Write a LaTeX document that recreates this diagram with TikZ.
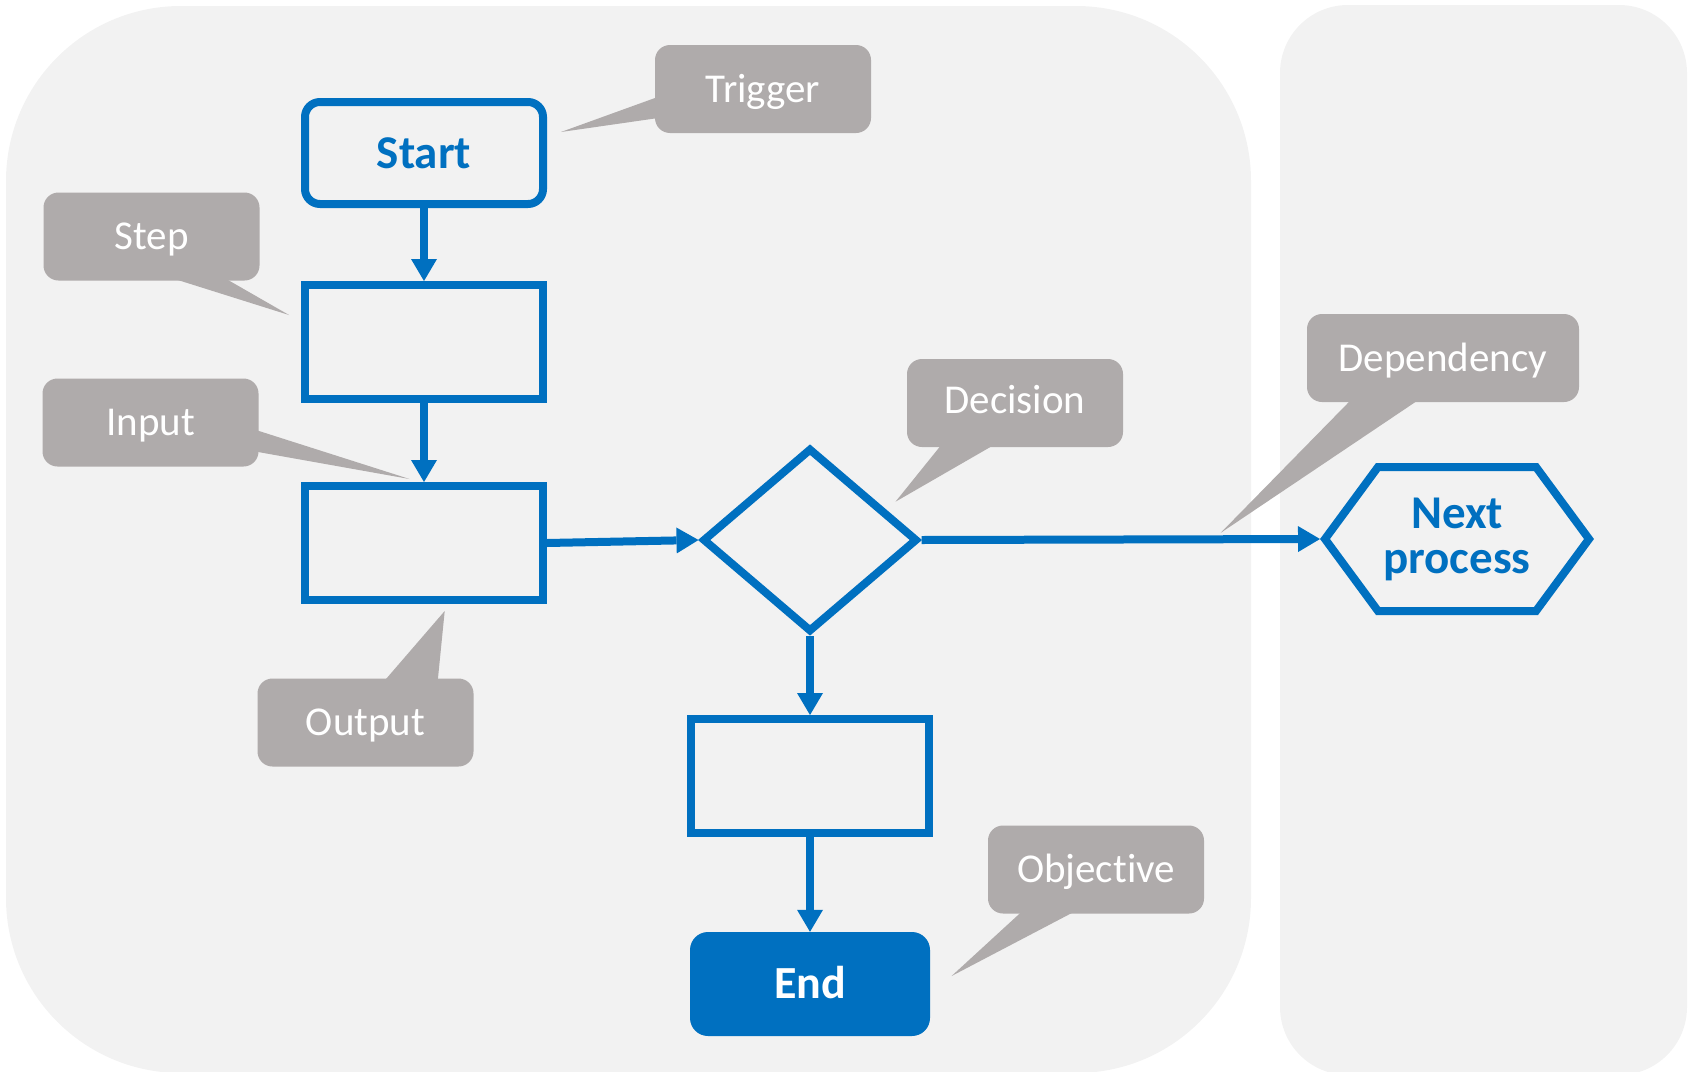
\documentclass[tikz,border=0pt]{standalone}
\usepackage{fontspec}
\setmainfont{Carlito}[Ligatures=NoCommon]
\usetikzlibrary{arrows.meta,calc,shapes.geometric}

\definecolor{panelgray}{HTML}{F2F2F2}
\definecolor{calloutgray}{HTML}{AFABAB}
\definecolor{flowblue}{HTML}{0070C0}

\begin{document}
\begin{tikzpicture}[x=1pt, y=-1pt,
  callout/.style={fill=calloutgray, rounded corners=15pt, minimum width=216pt,
    minimum height=88pt, inner sep=0pt, outer sep=0pt, text=white,
    font=\fontsize{41}{49}\selectfont, text height=26pt, text depth=0pt},
  tailfill/.style={fill=calloutgray},
  flowrect/.style={draw=flowblue, line width=8pt, minimum width=238pt,
    minimum height=114pt, inner sep=0pt},
  startbox/.style={flowrect, rounded corners=15pt, minimum height=102pt,
    text=flowblue, font=\fontsize{47}{56}\selectfont\bfseries,
    text height=30pt, text depth=0pt},
  endbox/.style={fill=flowblue, rounded corners=18pt, minimum width=240pt,
    minimum height=104pt, inner sep=0pt, text=white,
    font=\fontsize{46}{55}\selectfont\bfseries, text height=29pt, text depth=0pt},
  decshape/.style={diamond, draw=flowblue, line width=8pt, minimum width=215pt,
    minimum height=184pt, inner sep=0pt},
  nextshape/.style={rectangle, minimum width=264pt, minimum height=144pt,
    inner sep=0pt, outer sep=0pt, align=center, text=flowblue,
    font=\fontsize{47}{47}\selectfont\bfseries},
  hexline/.style={draw=flowblue, line width=8pt, line join=miter},
  flowarrow/.style={draw=flowblue, line width=8pt,
    -{Triangle[length=22pt, width=26pt, line width=0pt]}}
]
\useasboundingbox (0,0) rectangle (1692,1071);

% background lanes
\fill[panelgray, rounded corners=175pt] (6,6) rectangle (1251,1073);
\fill[panelgray, rounded corners=68pt] (1280,5) rectangle (1687,1075);

% flow elements
\node[startbox] (startnode) at (424,153) {Start};
\node[flowrect] (stepA) at (424,342) {};
\node[flowrect] (stepB) at (424,543) {};
\node[decshape] (decision) at (810,540) {};
\node[flowrect] (stepC) at (810,776) {};
\node[endbox] (endnode) at (810,984) {End};
\node[nextshape] (nextproc) at (1457,539) {\raisebox{-2pt}{Next}\\process};
\draw[hexline] (nextproc.west) -- ([xshift=53pt]nextproc.north west)
  -- ([xshift=-53pt]nextproc.north east) -- (nextproc.east)
  -- ([xshift=-53pt]nextproc.south east) -- ([xshift=53pt]nextproc.south west)
  -- cycle;

% connectors
\draw[flowarrow] (startnode.south) -- (stepA.north);
\draw[flowarrow] (stepA.south) -- (stepB.north);
\draw[flowarrow] (stepB.east) -- (decision.west);
\draw[flowarrow] (decision.east) -- ([xshift=-5pt]nextproc.west);
\draw[flowarrow] (decision.south) -- (stepC.north);
\draw[flowarrow] (stepC.south) -- (endnode.north);

% callouts
\node[callout] (trigger) at (763,89) {Trigger};
\coordinate (triggertip) at (561,132);
\fill[tailfill] ($(trigger.north west)!0.59!(trigger.south west)+(3,0)$) -- (triggertip)
  -- ($(trigger.north west)!0.83!(trigger.south west)+(3,0)$) -- cycle;

\node[callout] (stepnote) at (151.5,236.5) {Step};
\coordinate (steptip) at (289,315);
\fill[tailfill] ($(stepnote.south west)!0.585!(stepnote.south east)+(0,-3)$) -- (steptip)
  -- ($(stepnote.south west)!0.834!(stepnote.south east)+(0,-3)$) -- cycle;

\node[callout] (inputnote) at (150.5,422.5) {Input};
\coordinate (inputtip) at (409.5,479);
\fill[tailfill] ($(inputnote.north east)!0.584!(inputnote.south east)+(-3,0)$) -- (inputtip)
  -- ($(inputnote.north east)!0.83!(inputnote.south east)+(-3,0)$) -- cycle;

\node[callout] (outputnote) at (365.5,722.5) {Output};
\coordinate (outputtip) at (444.7,611);
\fill[tailfill] ($(outputnote.north west)!0.585!(outputnote.north east)+(0,3)$) -- (outputtip)
  -- ($(outputnote.north west)!0.834!(outputnote.north east)+(0,3)$) -- cycle;

\node[callout] (decisionnote) at (1015,403) {\raisebox{3pt}{Decision}};
\coordinate (decisiontip) at (895.5,501.7);
\fill[tailfill] ($(decisionnote.south west)!0.162!(decisionnote.south east)+(0,-3)$) -- (decisiontip)
  -- ($(decisionnote.south west)!0.41!(decisionnote.south east)+(0,-3)$) -- cycle;

\node[callout, minimum width=272pt] (depnote) at (1443,358) {Dependency};
\coordinate (deptip) at (1220.5,533);
\fill[tailfill] ($(depnote.south west)!0.165!(depnote.south east)+(0,-3)$) -- (deptip)
  -- ($(depnote.south west)!0.415!(depnote.south east)+(0,-3)$) -- cycle;

\node[callout] (objnote) at (1096,869.5) {Objective};
\coordinate (objtip) at (951.6,976);
\fill[tailfill] ($(objnote.south west)!0.162!(objnote.south east)+(0,-3)$) -- (objtip)
  -- ($(objnote.south west)!0.41!(objnote.south east)+(0,-3)$) -- cycle;
\end{tikzpicture}
\end{document}
